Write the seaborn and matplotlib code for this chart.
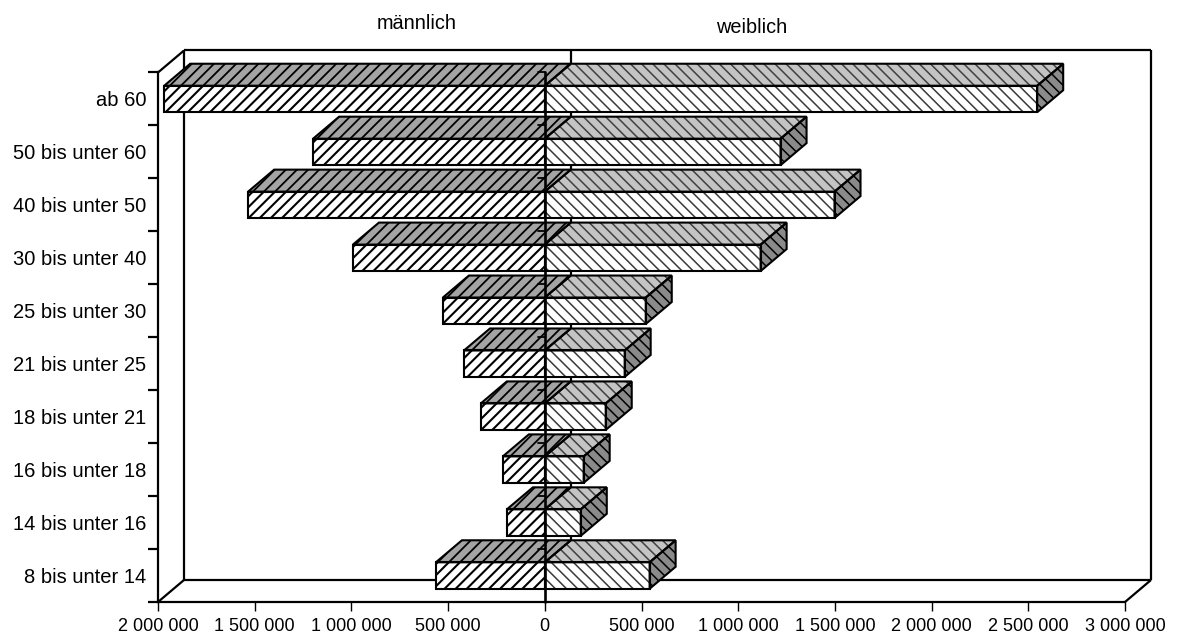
import numpy as np
import pandas as pd
import matplotlib
matplotlib.use("Agg")
import matplotlib.pyplot as plt
import seaborn as sns
from matplotlib.patches import Polygon, Rectangle
from matplotlib.ticker import FuncFormatter, FixedLocator

# ---------------- data ----------------
categories = ["ab 60", "50 bis unter 60", "40 bis unter 50", "30 bis unter 40",
              "25 bis unter 30", "21 bis unter 25", "18 bis unter 21",
              "16 bis unter 18", "14 bis unter 16", "8 bis unter 14"]
male = [1968000, 1198000, 1534000, 992000, 527000, 418000, 331000, 217000, 196000, 563000]
female = [2546000, 1219000, 1498000, 1116000, 522000, 413000, 315000, 201000, 186000, 542000]
xticks = [-2000000, -1500000, -1000000, -500000, 0, 500000, 1000000,
          1500000, 2000000, 2500000, 3000000]
series_names = ["männlich", "weiblich"]

# ---------------- style ----------------
sns.set_theme(style="white")
plt.rcParams['font.family'] = ['Liberation Sans', 'DejaVu Sans']
plt.rcParams['hatch.linewidth'] = 1.2

W, H = 1177, 641
fig = plt.figure(figsize=(W / 100, H / 100), dpi=100)
fig.patch.set_facecolor("white")
ax = fig.add_axes([158 / W, (H - 602) / H, 967 / W, 529.5 / H])
ax.set_facecolor("none")

df_m = pd.DataFrame({"Alter": categories, "Anzahl": [-v for v in male]})
df_f = pd.DataFrame({"Alter": categories, "Anzahl": female})

sns.barplot(data=df_m, x="Anzahl", y="Alter", order=categories, orient="h",
            width=0.5, color="white", errorbar=None, ax=ax, zorder=3)
n_m = len(ax.patches)
sns.barplot(data=df_f, x="Anzahl", y="Alter", order=categories, orient="h",
            width=0.5, color="white", errorbar=None, ax=ax, zorder=3)

xmin, xmax = -2000000, 3000000
ymin, ymax = -0.5, len(categories) - 0.5
ax.set_xlim(xmin, xmax)
ax.set_ylim(ymax, ymin)

# depth of pseudo-3D (in data units)
D = 26 * (xmax - xmin) / 967.0
d = 22 / (529.5 / len(categories))

EC = "black"
LW = 1.5


def hatch_lw(p, lw):
    if hasattr(p, "set_hatch_linewidth"):
        p.set_hatch_linewidth(lw)


def face(verts, fc, hc, hatch, hlw):
    poly = Polygon(verts, closed=True, facecolor=fc, edgecolor=hc, hatch=hatch,
                   linewidth=0, zorder=3, clip_on=False)
    hatch_lw(poly, hlw)
    ax.add_patch(poly)
    ax.add_patch(Polygon(verts, closed=True, fill=False, edgecolor=EC,
                         linewidth=LW, zorder=4, clip_on=False, joinstyle="miter"))


patches = list(ax.patches)
for k, p in enumerate(patches):
    is_m = k < n_m
    x0, w, y0, h = p.get_x(), p.get_width(), p.get_y(), p.get_height()
    xl, xr = min(x0, x0 + w), max(x0, x0 + w)
    p.set_facecolor("white")
    p.set_linewidth(0)
    p.set_zorder(3)
    if is_m:
        p.set_edgecolor("black")
        p.set_hatch("///")
        hatch_lw(p, 1.5)
    else:
        p.set_edgecolor("#3a3a3a")
        p.set_hatch("\\\\\\")
        hatch_lw(p, 1.1)
    ax.add_patch(Rectangle((xl, y0), xr - xl, h, fill=False, edgecolor=EC,
                           linewidth=LW, zorder=4, joinstyle="miter"))
    top_verts = [(xl, y0), (xr, y0), (xr + D, y0 - d), (xl + D, y0 - d)]
    if is_m:
        face(top_verts, "#a4a4a4", "black", "///", 1.3)
    else:
        face(top_verts, "#c4c4c4", "#404040", "\\\\\\", 1.1)
        side_verts = [(xr, y0), (xr + D, y0 - d), (xr + D, y0 + h - d), (xr, y0 + h)]
        face(side_verts, "#8a8a8a", "black", "\\\\\\", 1.1)

# back wall and box edges
top_back = ymin - d
floor_back = ymax - d
kw = dict(color="black", lw=1.6, clip_on=False, solid_capstyle="butt")
ax.plot([xmin + D, xmin + D], [floor_back, top_back], zorder=1, **kw)
ax.plot([xmin + D, xmax + D], [top_back, top_back], zorder=1, **kw)
ax.plot([xmax + D, xmax + D], [top_back, floor_back], zorder=1, **kw)
ax.plot([xmin + D, xmax + D], [floor_back, floor_back], zorder=1, **kw)
ax.plot([xmin, xmin + D], [ymin, top_back], zorder=1, **kw)
ax.plot([xmin, xmin + D], [ymax, floor_back], zorder=1, **kw)
ax.plot([xmax, xmax + D], [ymax, floor_back], zorder=1, **kw)
# zero line on back wall (behind bars)
ax.plot([D, D], [top_back, floor_back], zorder=1, **kw)
# zero line on front (over bars)
ax.plot([0, 0], [ymin, ymax], zorder=6, color="black", lw=1.9, clip_on=False)
# small tick marks on the zero axis
dash = 7 * (xmax - xmin) / 967.0
for b in np.arange(ymin, ymax + 0.01, 1.0):
    ax.plot([-dash, 0], [b, b], zorder=6, color="black", lw=1.3, clip_on=False)

# spines
for s in ["top", "right"]:
    ax.spines[s].set_visible(False)
for s in ["left", "bottom"]:
    ax.spines[s].set_color("black")
    ax.spines[s].set_linewidth(1.6)
    ax.spines[s].set_zorder(2)

# ticks
ax.set_xticks(xticks)
ax.xaxis.set_major_formatter(FuncFormatter(lambda v, pos: f"{abs(int(round(v))):,}".replace(",", " ")))
ax.tick_params(axis="x", which="major", direction="out", length=6.5, width=1.0,
               color="black", labelsize=13, pad=5, bottom=True)
ax.set_yticks(range(len(categories)))
ax.set_yticklabels(categories)
ax.yaxis.set_minor_locator(FixedLocator(np.arange(ymin, ymax + 0.01, 1.0)))
ax.tick_params(axis="y", which="major", length=0, labelsize=14.5, pad=8.6, left=True)
ax.tick_params(axis="y", which="minor", direction="out", length=7, width=1.6,
               color="black", left=True)
ax.set_xlabel("")
ax.set_ylabel("")
for lab in ax.get_xticklabels() + ax.get_yticklabels():
    lab.set_color("black")

# series titles
fig.text(417 / W, 1 - 29 / H, series_names[0], ha="center", va="baseline", fontsize=14.3, color="black")
fig.text(752 / W, 1 - 33 / H, series_names[1], ha="center", va="baseline", fontsize=14.3, color="black")

fig.savefig("out.png", dpi=100)
